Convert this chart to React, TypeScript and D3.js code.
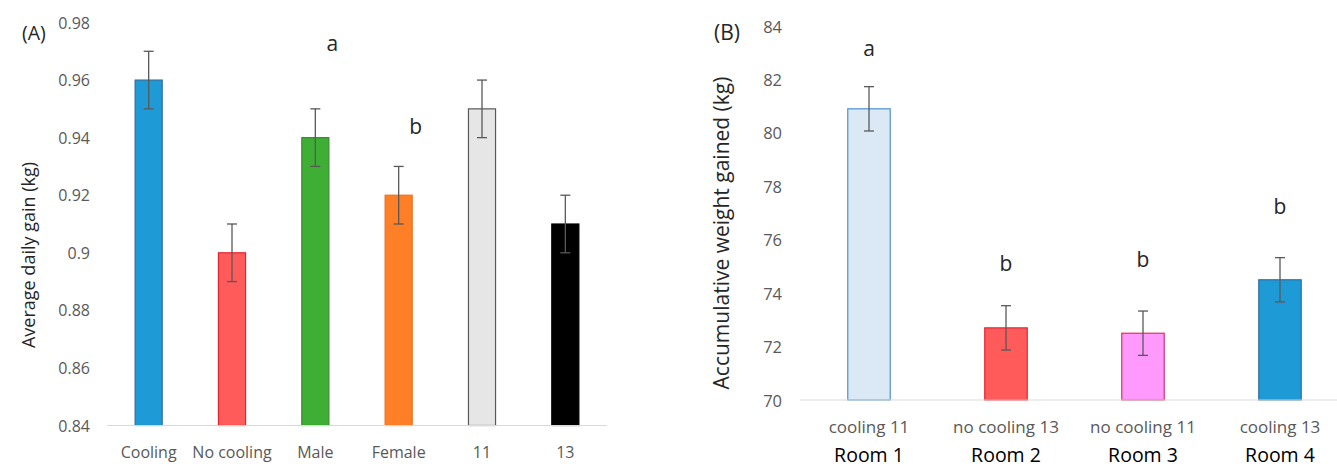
import React from "react";
import * as d3 from "d3";

const catsA = ["Cooling", "No cooling", "Male", "Female", "11", "13"];
const valsA = [0.96, 0.9, 0.94, 0.92, 0.95, 0.91];
const errA = [0.01, 0.01, 0.01, 0.01, 0.01, 0.01];
const ticksA = [0.84, 0.86, 0.88, 0.9, 0.92, 0.94, 0.96, 0.98];
const fillA = ["#1e9bd7", "#ff5b5b", "#3fae35", "#ff7f27", "#e6e6e6", "#000000"];
const strokeA = ["#2f6f9f", "#e8212f", "#3a8a30", "#f07020", "#595959", "#000000"];
const letterCatsA = ["Male", "Female"];
const letterTextA = ["a", "b"];
const letterValA = [0.9728, 0.944];

const catsB = ["cooling 11", "no cooling 13", "no cooling 11", "cooling 13"];
const roomsB = ["Room 1", "Room 2", "Room 3", "Room 4"];
const valsB = [80.9, 72.7, 72.5, 74.5];
const errB = [0.83, 0.83, 0.83, 0.83];
const ticksB = [70, 72, 74, 76, 78, 80, 82, 84];
const fillB = ["#dbe9f6", "#ff5b5b", "#ff99fd", "#1e9bd7"];
const strokeB = ["#4c93cc", "#e8212f", "#e0305a", "#2f6f9f"];
const lettersB = ["a", "b", "b", "b"];
const letterValB = [83.18, 75.14, 75.29, 77.26];

const FONT = "'Open Sans', sans-serif";

export default function App() {
  const xA = d3.scaleBand<string>().domain(catsA).range([107, 607]).paddingInner(0.675).paddingOuter(0.3375);
  const yA = d3.scaleLinear().domain([0.84, 0.98]).range([425.5, 22.5]);
  const xB = d3.scaleBand<string>().domain(catsB).range([800.5, 1348.5]).paddingInner(0.69).paddingOuter(0.345);
  const yB = d3.scaleLinear().domain([70, 84]).range([400, 26]);
  const cap = 5;
  const ec = "#595959";

  return (
    <svg width={1337} height={468} style={{ position: "absolute", left: 0, top: 0, background: "#fff" }} fontFamily={FONT}>
      {/* Panel A */}
      <text x={22} y={32} dominantBaseline="central" fontSize={19.5} fill="#262626">(A)</text>
      <text transform={`translate(28,255) rotate(-90)`} textAnchor="middle" dominantBaseline="central" fontSize={18} fill="#262626">
        Average daily gain (kg)
      </text>
      {ticksA.map((t) => (
        <text key={t} x={90} y={yA(t)} textAnchor="end" dominantBaseline="central" fontSize={16} fill="#595959">
          {d3.format("~g")(t)}
        </text>
      ))}
      {catsA.map((c, i) => {
        const cx = xA(c)! + xA.bandwidth() / 2;
        return (
          <g key={c}>
            <rect x={xA(c)!} y={yA(valsA[i])} width={xA.bandwidth()} height={yA(0.84) - yA(valsA[i])} fill={fillA[i]} stroke={strokeA[i]} strokeWidth={1.2} />
            <line x1={cx} x2={cx} y1={yA(valsA[i] + errA[i])} y2={yA(valsA[i] - errA[i])} stroke={ec} strokeWidth={1.3} />
            <line x1={cx - cap} x2={cx + cap} y1={yA(valsA[i] + errA[i])} y2={yA(valsA[i] + errA[i])} stroke={ec} strokeWidth={1.3} />
            <line x1={cx - cap} x2={cx + cap} y1={yA(valsA[i] - errA[i])} y2={yA(valsA[i] - errA[i])} stroke={ec} strokeWidth={1.3} />
            <text x={cx} y={452} textAnchor="middle" dominantBaseline="central" fontSize={16} fill="#595959">{c}</text>
          </g>
        );
      })}
      <line x1={107} x2={607} y1={yA(0.84)} y2={yA(0.84)} stroke="#d9d9d9" strokeWidth={1.2} />
      {letterCatsA.map((c, i) => (
        <text key={c} x={xA(c)! + xA.bandwidth() / 2 + 17} y={yA(letterValA[i])} textAnchor="middle" dominantBaseline="central" fontSize={21} fill="#262626">
          {letterTextA[i]}
        </text>
      ))}

      {/* Panel B */}
      <text x={714} y={32} dominantBaseline="central" fontSize={21} fill="#262626">(B)</text>
      <text transform={`translate(721,233) rotate(-90)`} textAnchor="middle" dominantBaseline="central" fontSize={21} fill="#262626">
        Accumulative weight gained (kg)
      </text>
      {ticksB.map((t) => (
        <text key={t} x={782} y={yB(t)} textAnchor="end" dominantBaseline="central" fontSize={16.5} fill="#595959">
          {t}
        </text>
      ))}
      {catsB.map((c, i) => {
        const cx = xB(c)! + xB.bandwidth() / 2;
        return (
          <g key={c}>
            <rect x={xB(c)!} y={yB(valsB[i])} width={xB.bandwidth()} height={yB(70) - yB(valsB[i])} fill={fillB[i]} stroke={strokeB[i]} strokeWidth={1.2} />
            <line x1={cx} x2={cx} y1={yB(valsB[i] + errB[i])} y2={yB(valsB[i] - errB[i])} stroke={ec} strokeWidth={1.3} />
            <line x1={cx - cap} x2={cx + cap} y1={yB(valsB[i] + errB[i])} y2={yB(valsB[i] + errB[i])} stroke={ec} strokeWidth={1.3} />
            <line x1={cx - cap} x2={cx + cap} y1={yB(valsB[i] - errB[i])} y2={yB(valsB[i] - errB[i])} stroke={ec} strokeWidth={1.3} />
            <text x={cx} y={yB(letterValB[i])} textAnchor="middle" dominantBaseline="central" fontSize={21} fill="#262626">{lettersB[i]}</text>
            <text x={cx} y={426} textAnchor="middle" dominantBaseline="central" fontSize={17} fill="#595959">{c}</text>
            <text x={cx} y={454} textAnchor="middle" dominantBaseline="central" fontSize={19.5} fill="#000">{roomsB[i]}</text>
          </g>
        );
      })}
      <line x1={800} x2={1337} y1={yB(70)} y2={yB(70)} stroke="#d9d9d9" strokeWidth={1.2} />
    </svg>
  );
}
